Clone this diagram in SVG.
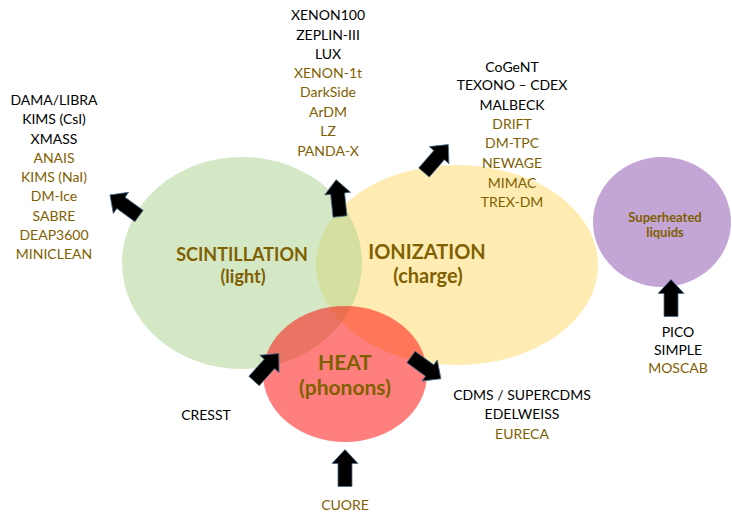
<svg xmlns="http://www.w3.org/2000/svg" width="732" height="513" viewBox="0 0 732 513">
<style>
  text { font-family: Lato, "Liberation Sans", sans-serif; text-anchor: middle; }
  .k { fill: #000000; font-size: 14px; }
  .g { fill: #7F6000; font-size: 14px; }
  .big { fill: #7F6000; font-weight: bold; }
  .arrow { fill: #000000; stroke: #4A6A8A; stroke-width: 0.8; stroke-linejoin: miter; }
</style>
<defs>
  <polygon id="arr" points="0,-7 23,-7 23,-13 37,0 23,13 23,7 0,7"/>
</defs>
<rect width="732" height="513" fill="#ffffff"/>

<g id="ionization">
  <ellipse cx="457" cy="265" rx="141" ry="100" fill="#FFD966" fill-opacity="0.5"/>
  <text class="big" x="427" y="259" font-size="20">IONIZATION</text>
  <text class="big" x="428" y="283" font-size="20">(charge)</text>
</g>
<g id="scintillation">
  <ellipse cx="242" cy="263" rx="120" ry="106" fill="#A9D18E" fill-opacity="0.5"/>
  <text class="big" x="242" y="261" font-size="18">SCINTILLATION</text>
  <text class="big" x="243" y="283" font-size="18">(light)</text>
</g>
<g id="heat">
  <ellipse cx="345" cy="374" rx="82" ry="68" fill="#FF0000" fill-opacity="0.5"/>
  <text class="big" x="345" y="370" font-size="21">HEAT</text>
  <text class="big" x="345" y="395" font-size="21">(phonons)</text>
</g>
<g id="superheated">
  <ellipse cx="662" cy="222" rx="69" ry="65" fill="#C3A6D6"/>
  <text class="big" x="665" y="221.5" font-size="13">Superheated</text>
  <text class="big" x="665" y="237" font-size="13">liquids</text>
</g>

<g id="list-scintillation">
  <text class="k" x="54" y="105">DAMA/LIBRA</text>
  <text class="k" x="54" y="124">KIMS (CsI)</text>
  <text class="k" x="54" y="144">XMASS</text>
  <text class="g" x="54" y="163">ANAIS</text>
  <text class="g" x="54" y="182">KIMS (NaI)</text>
  <text class="g" x="54" y="201">DM-Ice</text>
  <text class="g" x="54" y="221">SABRE</text>
  <text class="g" x="54" y="240">DEAP3600</text>
  <text class="g" x="54" y="259">MINICLEAN</text>
</g>
<g id="list-scint-ion">
  <text class="k" x="328" y="20">XENON100</text>
  <text class="k" x="328" y="40">ZEPLIN-III</text>
  <text class="k" x="328" y="59">LUX</text>
  <text class="g" x="328" y="78">XENON-1t</text>
  <text class="g" x="328" y="97">DarkSide</text>
  <text class="g" x="328" y="117">ArDM</text>
  <text class="g" x="328" y="136">LZ</text>
  <text class="g" x="328" y="156">PANDA-X</text>
</g>
<g id="list-ionization">
  <text class="k" x="512" y="72">CoGeNT</text>
  <text class="k" x="512" y="90">TEXONO – CDEX</text>
  <text class="k" x="512" y="110">MALBECK</text>
  <text class="g" x="512" y="129">DRIFT</text>
  <text class="g" x="512" y="148">DM-TPC</text>
  <text class="g" x="512" y="168">NEWAGE</text>
  <text class="g" x="512" y="188">MIMAC</text>
  <text class="g" x="512" y="207">TREX-DM</text>
</g>
<g id="list-heat-ion">
  <text class="k" x="522" y="400">CDMS / SUPERCDMS</text>
  <text class="k" x="522" y="419">EDELWEISS</text>
  <text class="g" x="522" y="439">EURECA</text>
</g>
<g id="list-heat-scint">
  <text class="k" x="206" y="420">CRESST</text>
</g>
<g id="list-heat">
  <text class="g" x="345" y="510">CUORE</text>
</g>
<g id="list-superheated">
  <text class="k" x="678" y="337">PICO</text>
  <text class="k" x="678" y="355">SIMPLE</text>
  <text class="g" x="678" y="373">MOSCAB</text>
</g>

<g id="connectors">
  <use href="#arr" class="arrow" transform="translate(139,216) rotate(216) scale(0.97,1)"/>
  <use href="#arr" class="arrow" transform="translate(340,216.5) rotate(264)"/>
  <use href="#arr" class="arrow" transform="translate(424,172.5) rotate(-49)"/>
  <use href="#arr" class="arrow" transform="translate(254,381) rotate(-48)"/>
  <use href="#arr" class="arrow" transform="translate(411,357) rotate(36)"/>
  <use href="#arr" class="arrow" transform="translate(345,486.5) rotate(-90)"/>
  <use href="#arr" class="arrow" transform="translate(671,316.5) rotate(-90)"/>
</g>
</svg>
